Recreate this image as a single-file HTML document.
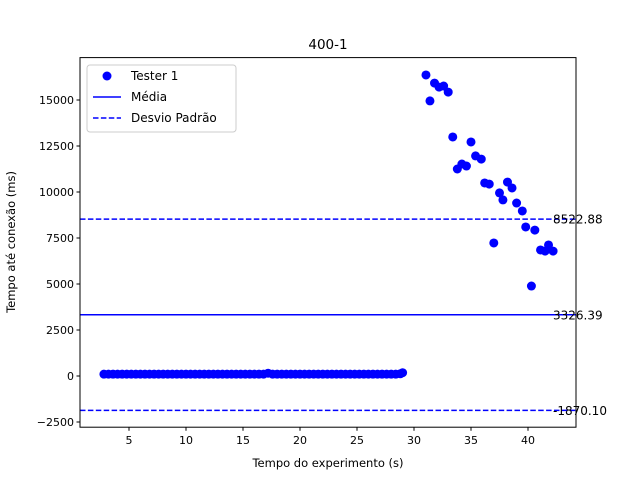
<!DOCTYPE html>
<html><head><meta charset="utf-8"><style>
body{margin:0;background:#fff;font-family:"DejaVu Sans",sans-serif}
svg text{font-family:"DejaVu Sans","Liberation Sans",sans-serif}
</style></head><body>
<svg id="chart" width="640" height="480" xmlns="http://www.w3.org/2000/svg"></svg>
<script>
const lowX=[2.8,3.2,3.6,4.0,4.4,4.8,5.2,5.6,6.0,6.4,6.8,7.2,7.6,8.0,8.4,8.8,9.2,9.6,10.0,10.4,10.8,11.2,11.6,12.0,12.4,12.8,13.2,13.6,14.0,14.4,14.8,15.2,15.6,16.0,16.4,16.8,17.2,17.6,18.0,18.4,18.8,19.2,19.6,20.0,20.4,20.8,21.2,21.6,22.0,22.4,22.8,23.2,23.6,24.0,24.4,24.8,25.2,25.6,26.0,26.4,26.8,27.2,27.6,28.0,28.4,28.8,29.0];
const lowY=[100,100,100,100,100,100,100,100,100,100,100,100,100,100,100,100,100,100,100,100,100,100,100,100,100,100,100,100,100,100,100,100,100,100,100,100,150,100,100,100,100,100,100,100,100,100,100,100,100,100,100,100,100,100,100,100,100,100,100,100,100,100,100,100,100,120,180];
const highX=[31.05,31.4,31.8,32.2,32.6,33.0,33.4,33.8,34.2,34.6,35.0,35.4,35.9,36.2,36.6,37.0,37.5,37.8,38.2,38.6,39.0,39.5,39.8,40.3,40.6,41.1,41.5,41.8,42.2];
const highY=[16360,14950,15920,15700,15760,15430,12990,11250,11520,11410,12720,11960,11790,10490,10430,7230,9950,9570,10540,10220,9400,8970,8100,4890,7930,6850,6790,7120,6790];
const meanVal=3326.39, upperVal=8522.88, lowerVal=-1870.10;
const xTicks=[5,10,15,20,25,30,35,40];
const yTicks=[-2500,0,2500,5000,7500,10000,12500,15000];

const L=80,R=576,T=57.6,B=427.2;
const xs=v=>72+(v)*11.4;
const ys=v=>376-v*0.0184;
const svg=document.getElementById('chart');
const NS='http://www.w3.org/2000/svg';
function mk(tag,attrs,txt){const e=document.createElementNS(NS,tag);for(const k in attrs)e.setAttribute(k,attrs[k]);if(txt!==undefined)e.textContent=txt;svg.appendChild(e);return e;}

let t=mk('text',{x:328,y:49,'text-anchor':'middle','font-size':'13.5',fill:'#000'},'400-1');


let e=mk('line',{x1:L,x2:R,y1:ys(meanVal),y2:ys(meanVal),stroke:'#0000ff','stroke-width':1.5});

e=mk('line',{x1:L,x2:R,y1:ys(upperVal),y2:ys(upperVal),stroke:'#0000ff','stroke-width':1.5,'stroke-dasharray':'5.5,2.4'});

e=mk('line',{x1:L,x2:R,y1:ys(lowerVal),y2:ys(lowerVal),stroke:'#0000ff','stroke-width':1.5,'stroke-dasharray':'5.5,2.4'});


[[meanVal,'3326.39'],[upperVal,'8522.88'],[lowerVal,'-1870.10']].forEach(([v,s])=>{
  const tx=mk('text',{x:553,y:ys(v)+4.5,'font-size':'12',fill:'#000'},s);
  
});

const all=lowX.map((x,i)=>[x,lowY[i]]).concat(highX.map((x,i)=>[x,highY[i]]));
all.forEach(([x,y])=>{
  const c=mk('circle',{cx:xs(x),cy:ys(y),r:4.5,fill:'#0000ff'});
  
});

e=mk('rect',{x:L,y:T,width:R-L,height:B-T,fill:'none',stroke:'#000','stroke-width':1});


xTicks.forEach(v=>{
  mk('line',{x1:xs(v),x2:xs(v),y1:B,y2:B+3.5,stroke:'#000'});
  const tx=mk('text',{x:xs(v),y:B+17,'text-anchor':'middle','font-size':'11',fill:'#000'},String(v));
  
});
yTicks.forEach(v=>{
  mk('line',{x1:L-3.5,x2:L,y1:ys(v),y2:ys(v),stroke:'#000'});
  const tx=mk('text',{x:L-6,y:ys(v)+4,'text-anchor':'end','font-size':'11',fill:'#000'},v<0?'\u22122500':String(v));
  
});
t=mk('text',{x:328,y:467,'text-anchor':'middle','font-size':'11.5',fill:'#000'},'Tempo do experimento (s)');

t=mk('text',{x:0,y:0,'text-anchor':'middle','font-size':'11.5',fill:'#000',transform:'translate(15,242) rotate(-90)'},'Tempo até conexão (ms)');


e=mk('rect',{x:87,y:65,width:149,height:67,rx:3,fill:'#fff','fill-opacity':0.8,stroke:'#ccc'});

mk('circle',{cx:107,cy:76,r:4.5,fill:'#0000ff'});
t=mk('text',{x:131,y:80,'font-size':'12',fill:'#000'},'Tester 1');

mk('line',{x1:93,x2:121,y1:97,y2:97,stroke:'#0000ff','stroke-width':1.5});
t=mk('text',{x:131,y:101,'font-size':'12',fill:'#000'},'Média');

mk('line',{x1:93,x2:121,y1:118,y2:118,stroke:'#0000ff','stroke-width':1.5,'stroke-dasharray':'5.5,2.4'});
t=mk('text',{x:131,y:122,'font-size':'12',fill:'#000'},'Desvio Padrão');

</script>
</body></html>
